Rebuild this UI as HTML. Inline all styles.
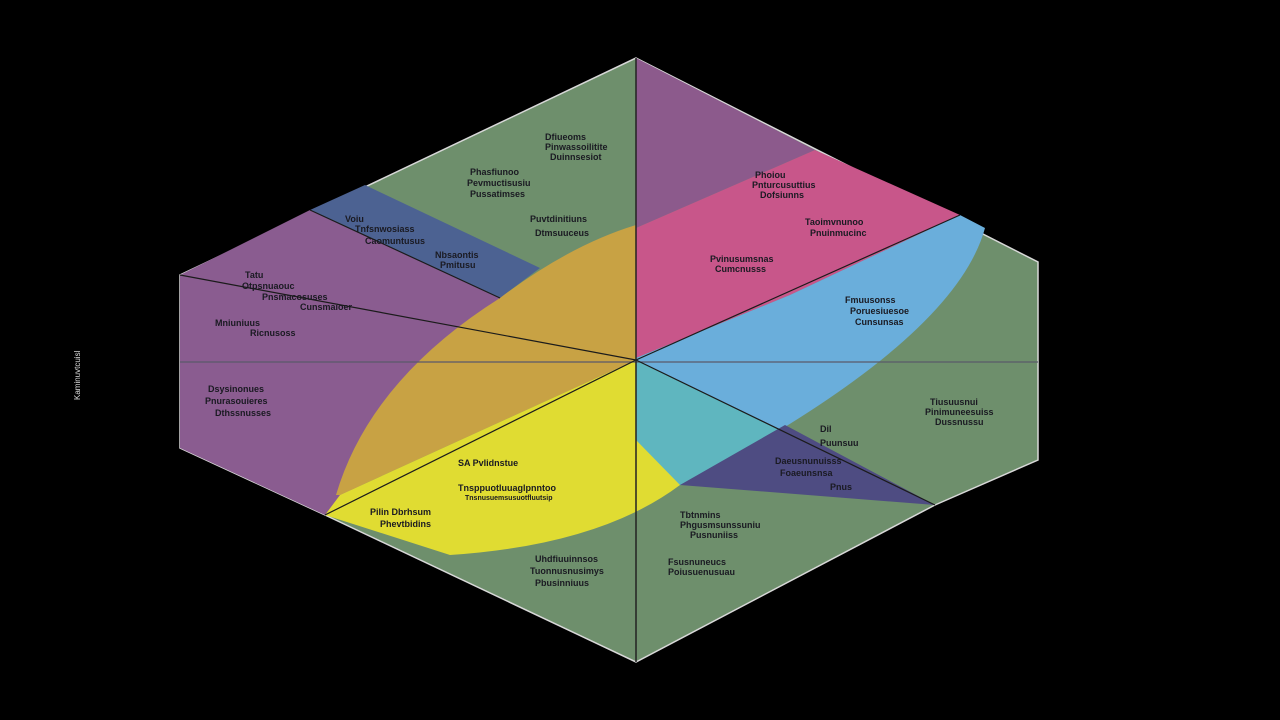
<!DOCTYPE html>
<html><head><meta charset="utf-8"><style>
html,body{margin:0;padding:0;background:#000;width:1280px;height:720px;overflow:hidden}
svg text{font-family:"Liberation Sans",sans-serif;font-size:9px;fill:#1a1a22;font-weight:bold}
</style></head><body>
<svg width="1280" height="720" viewBox="0 0 1280 720">
<rect width="1280" height="720" fill="#000"/>
<polygon points="636,58 1038,262 1038,460 935,505 636,662 325,515 180,448 180,275" fill="#6e8f6c" stroke="#d8d8d8" stroke-width="1.5"/>
<polygon points="180,275 310,210 520,300 470,340 400,420 350,500 325,515 180,448" fill="#8a5c90"/>
<polygon points="310,210 365,185 540,268 500,298" fill="#4c6292"/>
<polygon points="636,58 815,150 636,228" fill="#8c5a8c"/>
<polygon points="636,228 815,150 960,215 790,295 636,358" fill="#c8568a"/>
<path d="M636,358 L790,295 L960,215 L985,228 Q960,320 780,430 L680,485 L636,440 Z" fill="#6aaedb"/>
<polygon points="636,360 780,430 680,485 636,470" fill="#5fb6bf"/>
<polygon points="680,485 785,425 935,505" fill="#4e4c82"/>
<path d="M336,495 Q370,380 500,298 Q570,245 636,225 L636,360 L340,495 Z" fill="#c8a244"/>
<path d="M340,495 L636,360 L636,440 L680,485 Q600,545 450,555 L325,515 Z" fill="#e0dc32"/>
<g stroke="#1b1b1b" stroke-width="1.2" fill="none">
<line x1="180" y1="362" x2="1038" y2="362" stroke="#5a5a6a"/>
<line x1="180" y1="275" x2="636" y2="360"/>
<line x1="636" y1="360" x2="935" y2="505"/>
<line x1="325" y1="515" x2="636" y2="360"/>
<line x1="636" y1="360" x2="960" y2="215"/>
<line x1="310" y1="210" x2="500" y2="298"/>
</g>
<line x1="636" y1="58" x2="636" y2="662" stroke="#222" stroke-width="1.5"/>
<text x="545" y="140">Dfiueoms</text><text x="545" y="150">Pinwassoilitite</text><text x="550" y="160">Duinnsesiot</text>
<text x="470" y="175">Phasfiunoo</text><text x="467" y="186">Pevmuctisusiu</text><text x="470" y="197">Pussatimses</text>
<text x="530" y="222">Puvtdinitiuns</text><text x="535" y="236">Dtmsuuceus</text>
<text x="345" y="222">Voiu</text><text x="355" y="232">Tnfsnwosiass</text><text x="365" y="244">Caomuntusus</text>
<text x="435" y="258">Nbsaontis</text><text x="440" y="268">Pmitusu</text>
<text x="245" y="278">Tatu</text><text x="242" y="289">Otpsnuaouc</text><text x="262" y="300">Pnsmacosuses</text><text x="300" y="310">Cunsmaioer</text>
<text x="215" y="326">Mniuniuus</text><text x="250" y="336">Ricnusoss</text>
<text x="208" y="392">Dsysinonues</text><text x="205" y="404">Pnurasouieres</text><text x="215" y="416">Dthssnusses</text>
<text x="755" y="178">Phoiou</text><text x="752" y="188">Pnturcusuttius</text><text x="760" y="198">Dofsiunns</text>
<text x="805" y="225">Taoimvnunoo</text><text x="810" y="236">Pnuinmucinc</text>
<text x="710" y="262">Pvinusumsnas</text><text x="715" y="272">Cumcnusss</text>
<text x="845" y="303">Fmuusonss</text><text x="850" y="314">Poruesiuesoe</text><text x="855" y="325">Cunsunsas</text>
<text x="930" y="405">Tiusuusnui</text><text x="925" y="415">Pinimuneesuiss</text><text x="935" y="425">Dussnussu</text>
<text x="820" y="432">Dil</text><text x="820" y="446">Puunsuu</text>
<text x="775" y="464">Daeusnunuisss</text><text x="780" y="476">Foaeunsnsa</text><text x="830" y="490">Pnus</text>
<text x="458" y="466">SA Pvlidnstue</text>
<text x="458" y="491">Tnsppuotluuaglpnntoo</text><text x="465" y="500" style="font-size:7px">Tnsnusuemsusuotfluutsip</text>
<text x="370" y="515">Pilin Dbrhsum</text><text x="380" y="527">Phevtbidins</text>
<text x="535" y="562">Uhdfiuuinnsos</text><text x="530" y="574">Tuonnusnusimys</text><text x="535" y="586">Pbusinniuus</text>
<text x="680" y="518">Tbtnmins</text><text x="680" y="528">Phgusmsunssuniu</text><text x="690" y="538">Pusnuniiss</text>
<text x="668" y="565">Fsusnuneucs</text><text x="668" y="575">Poiusuenusuau</text>
<text x="0" y="0" transform="translate(80,400) rotate(-90)" style="fill:#ddd;font-size:8px;font-weight:normal">Kaminuvtcuisl</text>
</svg>
</body></html>
